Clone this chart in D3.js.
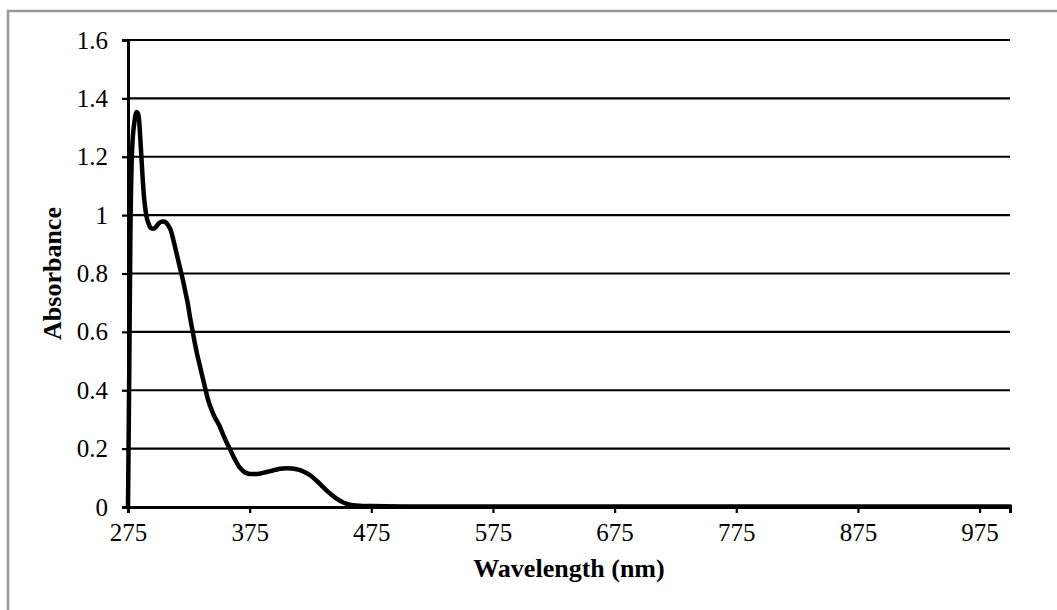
<!DOCTYPE html>
<html>
<head>
<meta charset="utf-8">
<script src="https://cdn.jsdelivr.net/npm/d3@7"></script>
<style>
  html, body { margin: 0; padding: 0; background: #fff; }
  svg { display: block; }
  text { font-family: "Liberation Serif", "Times New Roman", serif; fill: #000; }
</style>
</head>
<body>
<svg id="chart" width="1057" height="610"></svg>
<script>
// Absorption spectrum: wavelength (nm) vs absorbance
const wavelengths = [275, 276, 277, 278, 279, 280, 281, 282, 283, 284, 285, 286, 287, 288, 289, 290,
  292, 294, 296, 298, 300, 302, 304, 306, 308, 310, 312, 314, 316, 318, 320, 322, 324, 326, 328,
  330, 332, 334, 336, 338, 340, 342, 344, 346, 348, 350, 352, 354, 356, 358, 360, 362, 364, 366,
  368, 370, 372, 376, 380, 384, 388, 392, 396, 400, 405, 410, 415, 420, 425, 430, 435, 440, 445,
  450, 455, 460, 465, 475, 500, 600, 700, 800, 900, 1000];
const absorbance = [0, 0.45, 0.95, 1.18, 1.27, 1.31, 1.34, 1.353, 1.35, 1.33, 1.27, 1.2, 1.13, 1.07, 1.03, 1.0,
  0.97, 0.955, 0.953, 0.96, 0.97, 0.977, 0.978, 0.975, 0.965, 0.95, 0.92, 0.885, 0.85, 0.815, 0.78, 0.74, 0.70, 0.65, 0.605,
  0.56, 0.52, 0.485, 0.45, 0.415, 0.38, 0.352, 0.33, 0.31, 0.295, 0.28, 0.26, 0.24, 0.222, 0.205, 0.188, 0.17, 0.155, 0.14,
  0.13, 0.122, 0.117, 0.113, 0.113, 0.115, 0.119, 0.123, 0.127, 0.131, 0.133, 0.132, 0.128, 0.12, 0.108, 0.09, 0.07, 0.05, 0.033,
  0.02, 0.011, 0.006, 0.004, 0.003, 0.002, 0.002, 0.002, 0.002, 0.002, 0.002];

const xTicks = [275, 375, 475, 575, 675, 775, 875, 975];
const yTicks = [0, 0.2, 0.4, 0.6, 0.8, 1, 1.2, 1.4, 1.6];

const svg = d3.select("#chart");
const margin = { left: 128, top: 40, right: 1010, bottom: 507 };

const x = d3.scaleLinear().domain([275, 1000]).range([margin.left, margin.right]);
const y = d3.scaleLinear().domain([0, 1.6]).range([margin.bottom, margin.top]);

// outer frame
svg.append("rect")
  .attr("x", 8).attr("y", 11)
  .attr("width", 1070).attr("height", 620)
  .attr("fill", "none").attr("stroke", "#999").attr("stroke-width", 2.5);

// horizontal grid lines
svg.append("g")
  .selectAll("line")
  .data(yTicks.filter(d => d > 0))
  .join("line")
  .attr("x1", x(275)).attr("x2", x(1000))
  .attr("y1", d => y(d)).attr("y2", d => y(d))
  .attr("stroke", "#000").attr("stroke-width", 2.2);

// y axis
const yAxis = svg.append("g")
  .attr("transform", `translate(${x(275)},0)`)
  .call(d3.axisLeft(y).tickValues(yTicks).tickFormat(d3.format("~g")).tickSize(6).tickPadding(14));
yAxis.select(".domain").attr("stroke", "#000").attr("stroke-width", 3);
yAxis.selectAll(".tick line").attr("stroke", "#000").attr("stroke-width", 2.2);
yAxis.selectAll(".tick text")
  .style("font-family", '"Liberation Serif", "Times New Roman", serif')
  .style("font-size", "25px").attr("fill", "#000");

// x axis
const xAxis = svg.append("g")
  .attr("transform", `translate(0,${y(0)})`)
  .call(d3.axisBottom(x).tickValues(xTicks).tickFormat(d3.format("d")).tickSize(6).tickPadding(10));
xAxis.select(".domain").attr("stroke", "#000").attr("stroke-width", 3);
xAxis.selectAll(".tick line").attr("stroke", "#000").attr("stroke-width", 2.2);
xAxis.selectAll(".tick text")
  .style("font-family", '"Liberation Serif", "Times New Roman", serif')
  .style("font-size", "25px").attr("fill", "#000");

// spectrum line
const data = wavelengths.map((w, i) => ({ w, a: absorbance[i] }));
svg.append("path")
  .datum(data)
  .attr("fill", "none")
  .attr("stroke", "#000")
  .attr("stroke-width", 4.5)
  .attr("stroke-linejoin", "round")
  .attr("stroke-linecap", "round")
  .attr("d", d3.line().x(d => x(d.w)).y(d => y(d.a)).curve(d3.curveMonotoneX));

// axis titles
svg.append("text")
  .attr("x", (x(275) + x(1000)) / 2).attr("y", 577)
  .attr("text-anchor", "middle")
  .style("font-size", "26px").style("font-weight", "bold")
  .text("Wavelength (nm)");

svg.append("text")
  .attr("transform", `translate(61,${(y(0) + y(1.6)) / 2}) rotate(-90)`)
  .attr("text-anchor", "middle")
  .style("font-size", "26px").style("font-weight", "bold")
  .text("Absorbance");
</script>
</body>
</html>
